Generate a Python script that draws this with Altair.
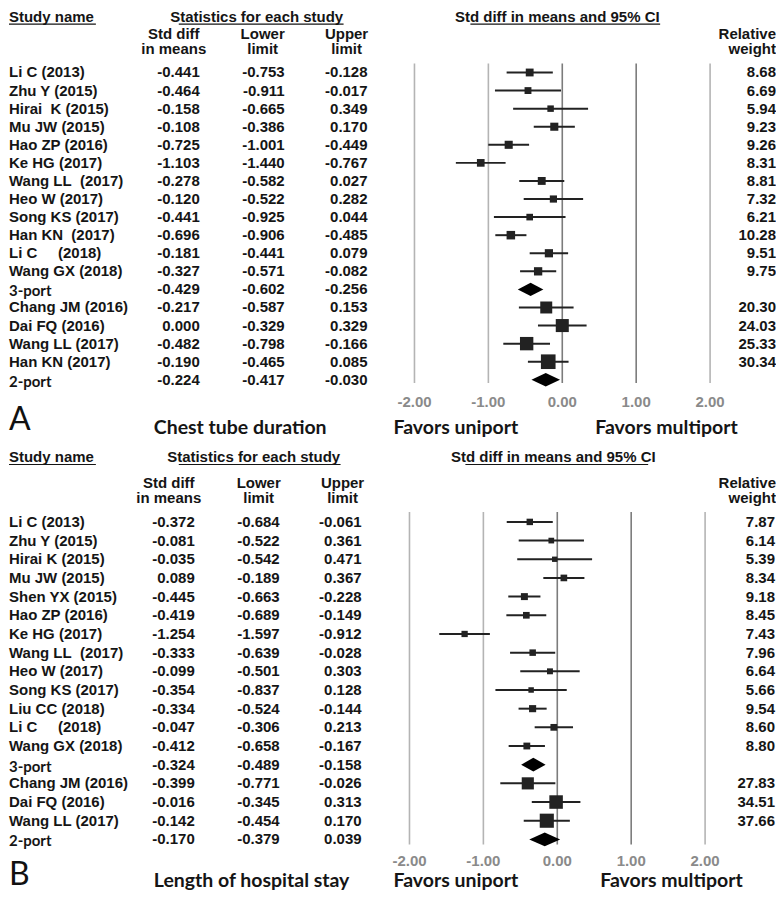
import altair as alt
import pandas as pd

# ---------------- Panel A: Chest tube duration ----------------
a_names = ["Li C (2013)", "Zhu Y (2015)", "Hirai\u00a0 K (2015)", "Mu JW (2015)", "Hao ZP (2016)",
           "Ke HG (2017)", "Wang LL\u00a0 (2017)", "Heo W (2017)", "Song KS (2017)", "Han KN\u00a0 (2017)",
           "Li C\u00a0\u00a0\u00a0\u00a0 (2018)", "Wang GX (2018)", "3-port", "Chang JM (2016)", "Dai FQ (2016)",
           "Wang LL (2017)", "Han KN (2017)", "2-port"]
a_est = [-0.441, -0.464, -0.158, -0.108, -0.725, -1.103, -0.278, -0.120, -0.441, -0.696, -0.181, -0.327,
         -0.429, -0.217, 0.000, -0.482, -0.190, -0.224]
a_lo = [-0.753, -0.911, -0.665, -0.386, -1.001, -1.440, -0.582, -0.522, -0.925, -0.906, -0.441, -0.571,
        -0.602, -0.587, -0.329, -0.798, -0.465, -0.417]
a_hi = [-0.128, -0.017, 0.349, 0.170, -0.449, -0.767, 0.027, 0.282, 0.044, -0.485, 0.079, -0.082,
        -0.256, 0.153, 0.329, -0.166, 0.085, -0.030]
a_wt = [8.68, 6.69, 5.94, 9.23, 9.26, 8.31, 8.81, 7.32, 6.21, 10.28, 9.51, 9.75,
        None, 20.30, 24.03, 25.33, 30.34, None]

# ---------------- Panel B: Length of hospital stay ----------------
b_names = ["Li C (2013)", "Zhu Y (2015)", "Hirai K (2015)", "Mu JW (2015)", "Shen YX (2015)", "Hao ZP (2016)",
           "Ke HG (2017)", "Wang LL\u00a0 (2017)", "Heo W (2017)", "Song KS (2017)", "Liu CC (2018)",
           "Li C\u00a0\u00a0\u00a0\u00a0 (2018)", "Wang GX (2018)", "3-port", "Chang JM (2016)", "Dai FQ (2016)",
           "Wang LL (2017)", "2-port"]
b_est = [-0.372, -0.081, -0.035, 0.089, -0.445, -0.419, -1.254, -0.333, -0.099, -0.354, -0.334, -0.047,
         -0.412, -0.324, -0.399, -0.016, -0.142, -0.170]
b_lo = [-0.684, -0.522, -0.542, -0.189, -0.663, -0.689, -1.597, -0.639, -0.501, -0.837, -0.524, -0.306,
        -0.658, -0.489, -0.771, -0.345, -0.454, -0.379]
b_hi = [-0.061, 0.361, 0.471, 0.367, -0.228, -0.149, -0.912, -0.028, 0.303, 0.128, -0.144, 0.213,
        -0.167, -0.158, -0.026, 0.313, 0.170, 0.039]
b_wt = [7.87, 6.14, 5.39, 8.34, 9.18, 8.45, 7.43, 7.96, 6.64, 5.66, 9.54, 8.60,
        8.80, None, 27.83, 34.51, 37.66, None]

ticks = [-2, -1, 0, 1, 2]

ARIAL = "Liberation Sans"
CAL = "Lato"
INK = "#151515"
W = 768


def one():
    return alt.Data(values=[{"k": 0}])


def label(txt, x, y, size=15, font=ARIAL, weight="bold", align="left", color=INK, lh=None):
    kw = dict(font=font, fontSize=size, fontWeight=weight, align=align, baseline="middle", color=color)
    if lh is not None:
        kw.update(lineBreak="\n", lineHeight=lh)
    return alt.Chart(one()).mark_text(**kw).encode(x=alt.value(x), y=alt.value(y), text=alt.value(txt))


def uline(x1, x2, y):
    return alt.Chart(one()).mark_rule(color=INK, strokeWidth=1.2).encode(
        x=alt.value(x1), x2=alt.value(x2), y=alt.value(y))


def panel(names, est, lo, hi, wt, g):
    n = len(names)
    kind = ["sub" if nm.endswith("port") else "study" for nm in names]
    df = pd.DataFrame({
        "row": list(range(n)), "name": names, "kind": kind,
        "est": est, "lo": lo, "hi": hi,
        "w": [v if v is not None else 0 for v in wt],
        "est_s": [f"{v:.3f}" for v in est],
        "lo_s": [f"{v:.3f}" for v in lo],
        "hi_s": [f"{v:.3f}" for v in hi],
        "w_s": [f"{v:.2f}" if v is not None else "" for v in wt],
    })
    studies = df[df.kind == "study"]
    subs = df[df.kind == "sub"]
    dia = []
    for _, r in subs.iterrows():
        dia += [{"g": r.row, "x": r.lo, "y": r.row, "y2": r.row},
                {"g": r.row, "x": r.est, "y": r.row - 0.37, "y2": r.row + 0.37},
                {"g": r.row, "x": r.hi, "y": r.row, "y2": r.row}]
    dia = pd.DataFrame(dia)
    tk = pd.DataFrame({"v": ticks, "lab": [f"{t:.2f}" for t in ticks]})

    xs = alt.Scale(domain=g["xd"], nice=False, zero=False)
    ys = alt.Scale(domain=g["yd"], nice=False, zero=False, reverse=True)

    def X(f):
        return alt.X(f, type="quantitative", scale=xs, axis=None)

    def Y(f):
        return alt.Y(f, type="quantitative", scale=ys, axis=None)

    grid = alt.Chart(tk).mark_rule(strokeWidth=1.6).encode(
        x=X("v"), y=alt.value(g["gtop"]), y2=alt.value(g["gbot"]),
        color=alt.condition("datum.v == 0 || datum.v == 1", alt.value("#7c7c7c"), alt.value("#b4b4b4")))
    ticklab = alt.Chart(tk).mark_text(font=ARIAL, fontSize=15, fontWeight="bold", color="#8a8a8a",
                                      baseline="middle").encode(
        x=X("v"), y=alt.value(g["ty"]), text="lab:N")
    ci = alt.Chart(studies).mark_rule(color="#222222", strokeWidth=2).encode(
        x=X("lo"), x2="hi", y=Y("row"))
    sq = alt.Chart(studies).mark_square(filled=True, opacity=1, color="#222222").encode(
        x=X("est"), y=Y("row"),
        size=alt.Size("w:Q", scale=alt.Scale(domain=[0, g["wmax"]], range=[0, g["smax"]]), legend=None))
    dm = alt.Chart(dia).mark_area(orient="vertical", color="black", opacity=1).encode(
        x=X("x"), y=Y("y"), y2="y2", detail="g:N")

    def col(data, field, x, align="right", font=ARIAL, dy=0):
        return alt.Chart(data).mark_text(font=font, fontSize=15, fontWeight="bold", align=align,
                                         baseline="middle", color=INK, dy=dy).encode(
            x=alt.value(x), y=Y("row"), text=f"{field}:N")

    layers = [grid, ticklab, ci, sq, dm,
              col(studies, "name", 0, align="left"),
              col(subs, "name", 0, align="left", font=CAL, dy=g["subdy"]),
              col(df, "est_s", g["c1"]), col(df, "lo_s", g["c2"]), col(df, "hi_s", g["c3"]),
              col(df, "w_s", g["cw"])]
    hy = g["hy"]
    sy = g["sy"]
    layers += [
        label("Study name", 0, hy), uline(0, 87, hy + 7.5),
        label("Statistics for each study", g["hs"], hy, align="center"), uline(*g["us"], hy + 7.5),
        label("Std diff in means and 95% CI", g["hf"], hy, align="center"), uline(*g["uf"], hy + 7.5),
        label("Std diff\nin means", g["h1"], sy, align="center", lh=15.5),
        label("Lower\nlimit", g["h2"], sy, align="center", lh=15.5),
        label("Upper\nlimit", g["h3"], sy, align="center", lh=15.5),
        label("Relative\nweight", W, sy, align="right", lh=15.5),
        label(g["letter"], 0, g["ly"], size=32, font=CAL, weight="normal", color="#111111"),
        label(g["title"], 145, g["fy"], size=19.5, font=CAL),
        label("Favors uniport", 385, g["fy"], size=19.5, font=CAL),
        label("Favors multiport", g["fm"], g["fy"], size=19.5, font=CAL),
    ]
    return alt.layer(*layers).properties(width=W, height=g["H"])


ga = dict(H=432, xd=[-554 / 74, (W - 554) / 74], yd=[-64 / 18.1, -64 / 18.1 + 432 / 18.1],
          gtop=55, gbot=375, ty=394, wmax=30.34, smax=215, subdy=2,
          c1=191, c2=276, c3=359, cw=W, hy=8, sy=25, hs=248, us=(170, 335), hf=549, uf=(462, 652),
          h1=165, h2=254, h3=338, letter="A", ly=412, title="Chest tube duration", fy=420, fm=587)
gb = dict(H=452, xd=[-549 / 74, (W - 549) / 74], yd=[-82 / 18.7, -82 / 18.7 + 452 / 18.7],
          gtop=72, gbot=405, ty=422, wmax=37.66, smax=200, subdy=2,
          c1=186, c2=271, c3=353, cw=W - 1, hy=17, sy=43, hs=245, us=(170, 332), hf=545, uf=(457, 640),
          h1=160, h2=250, h3=334, letter="B", ly=436, title="Length of hospital stay", fy=442, fm=592)

pa = panel(a_names, a_est, a_lo, a_hi, a_wt, ga)
pb = panel(b_names, b_est, b_lo, b_hi, b_wt, gb)

chart = alt.vconcat(pa, pb, spacing=0).resolve_scale(
    x="independent", y="independent", size="independent", color="independent"
).properties(padding=0).configure_view(stroke=None)

chart.save("out.html", embed_options={"renderer": "svg", "actions": False})
